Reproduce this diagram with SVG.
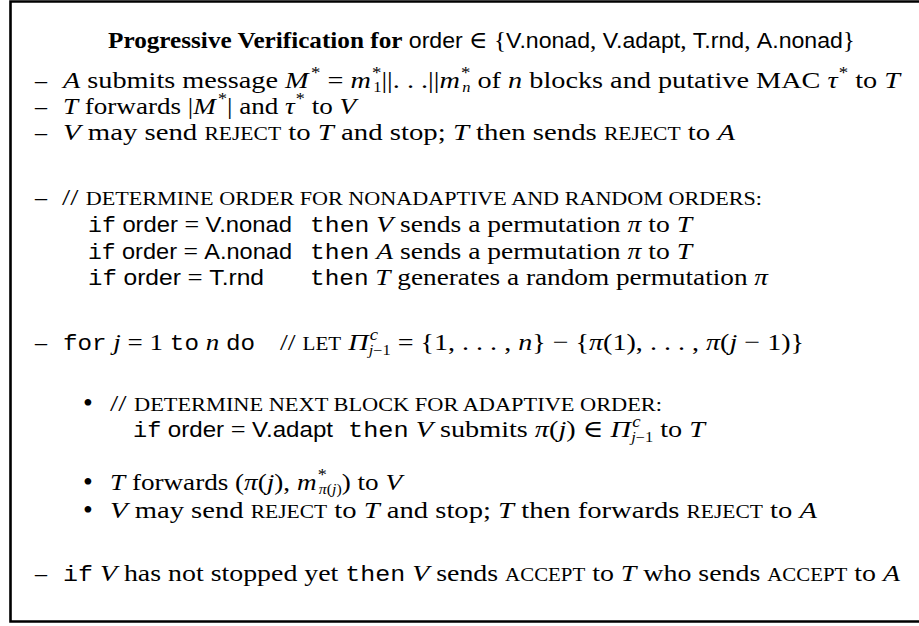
<svg xmlns="http://www.w3.org/2000/svg" width="919" height="626" viewBox="0 0 919 626">
  <style>
    .t { font-family: "Liberation Serif", "DejaVu Serif", serif; font-size: 24px; fill: #000; }
    .bf { font-weight: bold; }
    .it { font-style: italic; }
    .sf { font-family: "Liberation Sans", "DejaVu Sans", sans-serif; font-size: 22px; }
    .tt { font-family: "Liberation Mono", "DejaVu Sans Mono", monospace; font-size: 21.5px; }
    .sc { font-size: 18px; }
    .sup { font-size: 16px; }
    .sub { font-size: 14px; }
    .bul { font-family: "Liberation Serif", "DejaVu Serif", serif; font-size: 28px; fill: #000; }
  </style>
  <rect width="919" height="626" fill="#fff"/>
  <!-- frame (open on the right) -->
  <path d="M 930 1.5 H 10.5 V 621.5 H 930" fill="none" stroke="#000" stroke-width="2.6"/>

  <!-- heading -->
  <g id="heading">
    <text class="t" x="108" y="48" textLength="747" lengthAdjust="spacingAndGlyphs"><tspan class="bf">Progressive Verification for</tspan> <tspan class="sf">order</tspan> ∈ {<tspan class="sf">V.nonad</tspan>, <tspan class="sf">V.adapt</tspan>, <tspan class="sf">T.rnd</tspan>, <tspan class="sf">A.nonad</tspan>}</text>
  </g>

  <!-- opening steps -->
  <g id="intro">
    <text class="t" x="35" y="88">–</text>
    <text class="t" x="63" y="88" textLength="837" lengthAdjust="spacingAndGlyphs"><tspan class="it">A</tspan> submits message <tspan class="it">M</tspan><tspan class="sup" dx="2" dy="-10">*</tspan><tspan dy="10"> = </tspan><tspan class="it">m</tspan><tspan class="sup" dx="1" dy="-10">*</tspan><tspan class="sub" dx="-7" dy="14">1</tspan><tspan dy="-4">||. . .||</tspan><tspan class="it">m</tspan><tspan class="sup" dx="1" dy="-10">*</tspan><tspan class="sub it" dx="-7" dy="14">n</tspan><tspan dy="-4"> of </tspan><tspan class="it">n</tspan> blocks and putative MAC <tspan class="it">τ</tspan><tspan class="sup" dx="1" dy="-10">*</tspan><tspan dy="10"> to </tspan><tspan class="it">T</tspan></text>
    <text class="t" x="35" y="114">–</text>
    <text class="t" x="63" y="114" textLength="293" lengthAdjust="spacingAndGlyphs"><tspan class="it">T</tspan> forwards |<tspan class="it">M</tspan><tspan class="sup" dx="2" dy="-10">*</tspan><tspan dy="10">| and </tspan><tspan class="it">τ</tspan><tspan class="sup" dx="1" dy="-10">*</tspan><tspan dy="10"> to </tspan><tspan class="it">V</tspan></text>
    <text class="t" x="35" y="140">–</text>
    <text class="t" x="63" y="140" textLength="672" lengthAdjust="spacingAndGlyphs"><tspan class="it">V</tspan> may send <tspan class="sc">REJECT</tspan> to <tspan class="it">T</tspan> and stop; <tspan class="it">T</tspan> then sends <tspan class="sc">REJECT</tspan> to <tspan class="it">A</tspan></text>
  </g>

  <!-- order selection -->
  <g id="order">
    <text class="t" x="35" y="205">–</text>
    <text class="t" x="62" y="205" textLength="700" lengthAdjust="spacingAndGlyphs">// <tspan class="sc">DETERMINE ORDER FOR NONADAPTIVE AND RANDOM ORDERS:</tspan></text>
    <text class="t" x="88" y="232" textLength="204" lengthAdjust="spacingAndGlyphs"><tspan class="tt">if</tspan> <tspan class="sf">order</tspan> = <tspan class="sf">V.nonad</tspan></text>
    <text class="t" x="310" y="232" textLength="382" lengthAdjust="spacingAndGlyphs"><tspan class="tt">then</tspan> <tspan class="it">V</tspan> sends a permutation <tspan class="it">π</tspan> to <tspan class="it">T</tspan></text>
    <text class="t" x="88" y="259" textLength="204" lengthAdjust="spacingAndGlyphs"><tspan class="tt">if</tspan> <tspan class="sf">order</tspan> = <tspan class="sf">A.nonad</tspan></text>
    <text class="t" x="310" y="259" textLength="382" lengthAdjust="spacingAndGlyphs"><tspan class="tt">then</tspan> <tspan class="it">A</tspan> sends a permutation <tspan class="it">π</tspan> to <tspan class="it">T</tspan></text>
    <text class="t" x="88" y="285" textLength="176" lengthAdjust="spacingAndGlyphs"><tspan class="tt">if</tspan> <tspan class="sf">order</tspan> = <tspan class="sf">T.rnd</tspan></text>
    <text class="t" x="310" y="285" textLength="458" lengthAdjust="spacingAndGlyphs"><tspan class="tt">then</tspan> <tspan class="it">T</tspan> generates a random permutation <tspan class="it">π</tspan></text>
  </g>

  <!-- main loop -->
  <g id="loop">
    <text class="t" x="35" y="350">–</text>
    <text class="t" x="63" y="350" textLength="192" lengthAdjust="spacingAndGlyphs"><tspan class="tt">for</tspan> <tspan class="it">j</tspan> = 1 <tspan class="tt">to</tspan> <tspan class="it">n</tspan> <tspan class="tt">do</tspan></text>
    <text class="t" x="280" y="350" textLength="524" lengthAdjust="spacingAndGlyphs">// <tspan class="sc">LET</tspan> <tspan class="it">Π</tspan><tspan class="sup it" dx="1" dy="-10">c</tspan><tspan class="sub" dx="-8" dy="15"><tspan class="it">j</tspan>−1</tspan><tspan dy="-5"> = {1, . . . , </tspan><tspan class="it">n</tspan>} − {<tspan class="it">π</tspan>(1), . . . , <tspan class="it">π</tspan>(<tspan class="it">j</tspan> − 1)}</text>

    <text class="bul" x="83" y="412">•</text>
    <text class="t" x="110" y="411" textLength="552" lengthAdjust="spacingAndGlyphs">// <tspan class="sc">DETERMINE NEXT BLOCK FOR ADAPTIVE ORDER:</tspan></text>
    <text class="t" x="133" y="437" textLength="200" lengthAdjust="spacingAndGlyphs"><tspan class="tt">if</tspan> <tspan class="sf">order</tspan> = <tspan class="sf">V.adapt</tspan></text>
    <text class="t" x="348" y="437" textLength="357" lengthAdjust="spacingAndGlyphs"><tspan class="tt">then</tspan> <tspan class="it">V</tspan> submits <tspan class="it">π</tspan>(<tspan class="it">j</tspan>) ∈ <tspan class="it">Π</tspan><tspan class="sup it" dx="1" dy="-10">c</tspan><tspan class="sub" dx="-8" dy="15"><tspan class="it">j</tspan>−1</tspan><tspan dy="-5"> to </tspan><tspan class="it">T</tspan></text>

    <text class="bul" x="83" y="491">•</text>
    <text class="t" x="110" y="490" textLength="292" lengthAdjust="spacingAndGlyphs"><tspan class="it">T</tspan> forwards (<tspan class="it">π</tspan>(<tspan class="it">j</tspan>), <tspan class="it">m</tspan><tspan class="sup" dx="1" dy="-10">*</tspan><tspan class="sub" dx="-7" dy="14"><tspan class="it">π</tspan>(<tspan class="it">j</tspan>)</tspan><tspan dy="-4">) to </tspan><tspan class="it">V</tspan></text>
    <text class="bul" x="83" y="519">•</text>
    <text class="t" x="110" y="518" textLength="707" lengthAdjust="spacingAndGlyphs"><tspan class="it">V</tspan> may send <tspan class="sc">REJECT</tspan> to <tspan class="it">T</tspan> and stop; <tspan class="it">T</tspan> then forwards <tspan class="sc">REJECT</tspan> to <tspan class="it">A</tspan></text>
  </g>

  <!-- final step -->
  <g id="final">
    <text class="t" x="35" y="581">–</text>
    <text class="t" x="63" y="581" textLength="837" lengthAdjust="spacingAndGlyphs"><tspan class="tt">if</tspan> <tspan class="it">V</tspan> has not stopped yet <tspan class="tt">then</tspan> <tspan class="it">V</tspan> sends <tspan class="sc">ACCEPT</tspan> to <tspan class="it">T</tspan> who sends <tspan class="sc">ACCEPT</tspan> to <tspan class="it">A</tspan></text>
  </g>
</svg>
